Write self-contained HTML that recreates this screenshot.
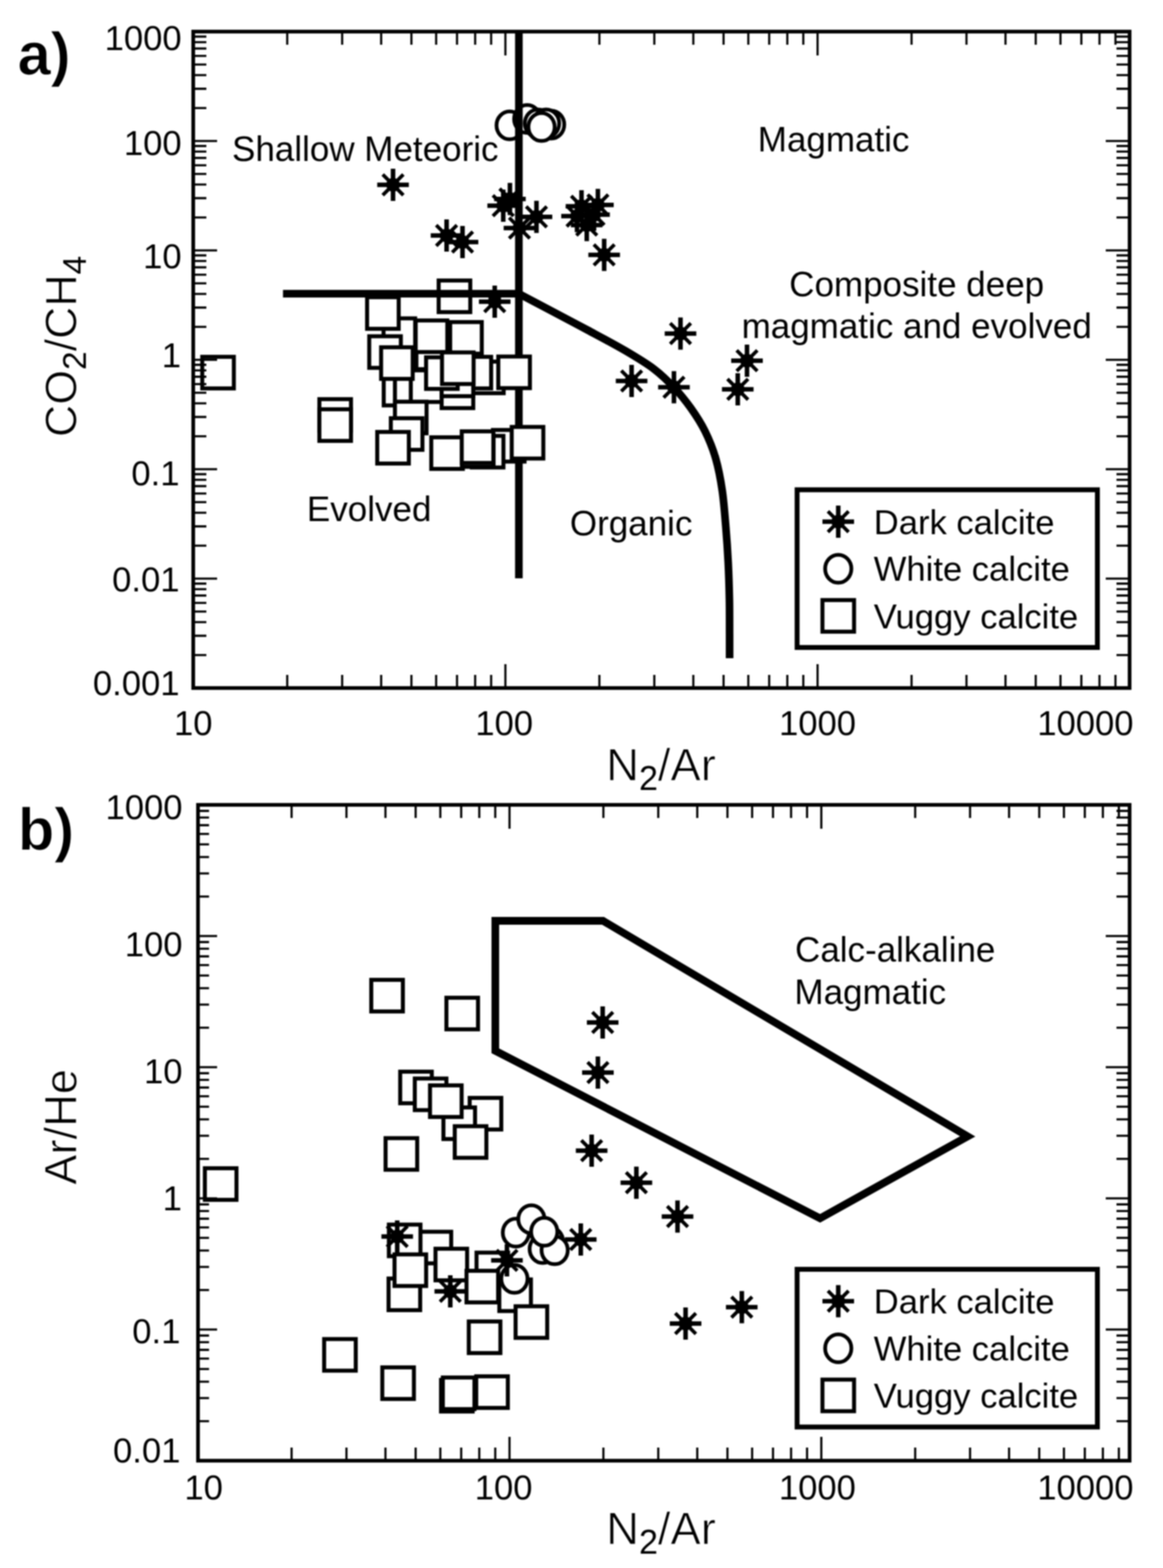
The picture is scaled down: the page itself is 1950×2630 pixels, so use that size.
<!DOCTYPE html>
<html lang="en">
<head>
<meta charset="utf-8">
<title>Gas ratio discrimination diagrams</title>
<style>
html,body{margin:0;padding:0;background:#fff;}
body{width:1950px;height:2630px;overflow:hidden;}
svg{display:block;filter:blur(1px);}
text{font-family:"Liberation Sans", Arial, Helvetica, sans-serif;fill:#000;stroke:none;stroke-linejoin:round;}
text.ax{stroke:#fff;stroke-width:1.1px;}
text.ax tspan.sb{stroke:none;}
text.pn{stroke:#fff;stroke-width:1.2px;}
</style>
</head>
<body>
<svg width="1950" height="2630" viewBox="0 0 1950 2630">
<rect width="1950" height="2630" fill="#fff"/>

<g id="plot-a">
<rect x="735.5" y="470.5" width="53" height="53" fill="#fff" stroke="#000" stroke-width="6.7"/>
<ellipse cx="854.5" cy="210.3" rx="22" ry="23.4" fill="#fff" stroke="#000" stroke-width="6.3"/>
<ellipse cx="884.0" cy="199.5" rx="22" ry="23.4" fill="#fff" stroke="#000" stroke-width="6.3"/>
<ellipse cx="902.0" cy="207.0" rx="22" ry="23.4" fill="#fff" stroke="#000" stroke-width="6.3"/>
<path d="M870 53V970" fill="none" stroke="#000" stroke-width="12.8"/>
<path d="M474.5 492.7H870" fill="none" stroke="#000" stroke-width="12.8"/>
<path d="M870 492.7C878.8 497.4 903.7 510.4 923 520.6C942.3 530.8 965.0 542.7 986 554C1007.0 565.3 1030.5 577.7 1049 588.6C1067.5 599.5 1083.4 609.0 1097 619.3C1110.6 629.6 1120.3 639.5 1130.5 650.3C1140.7 661.1 1149.4 671.9 1158 684C1166.6 696.1 1175.0 708.8 1182 723C1189.0 737.2 1195.2 752.3 1200 769C1204.8 785.7 1208.2 803.8 1211 823C1213.8 842.2 1215.3 863.8 1217 884C1218.7 904.2 1220.0 923.8 1221 944C1222.0 964.2 1222.6 984.8 1223 1005C1223.4 1025.2 1223.2 1048.5 1223.3 1065C1223.3 1081.5 1223.3 1097.5 1223.3 1104" fill="none" stroke="#000" stroke-width="12.8" stroke-linejoin="round"/>
<rect x="339.1" y="598.5" width="53" height="53" fill="#fff" stroke="#000" stroke-width="6.7"/>
<rect x="535.5" y="669.5" width="53" height="53" fill="#fff" stroke="#000" stroke-width="6.7"/>
<rect x="535.5" y="686.5" width="53" height="53" fill="#fff" stroke="#000" stroke-width="6.7"/>
<rect x="643.1" y="534.0" width="53" height="53" fill="#fff" stroke="#000" stroke-width="6.7"/>
<rect x="615.5" y="498.5" width="53" height="53" fill="#fff" stroke="#000" stroke-width="6.7"/>
<rect x="619.1" y="564.0" width="53" height="53" fill="#fff" stroke="#000" stroke-width="6.7"/>
<rect x="698.2" y="566.2" width="53" height="53" fill="#fff" stroke="#000" stroke-width="6.7"/>
<rect x="697.0" y="537.5" width="53" height="53" fill="#fff" stroke="#000" stroke-width="6.7"/>
<rect x="754.8" y="540.2" width="53" height="53" fill="#fff" stroke="#000" stroke-width="6.7"/>
<rect x="643.4" y="627.0" width="53" height="53" fill="#fff" stroke="#000" stroke-width="6.7"/>
<rect x="662.2" y="621.2" width="53" height="53" fill="#fff" stroke="#000" stroke-width="6.7"/>
<rect x="688.8" y="621.2" width="53" height="53" fill="#fff" stroke="#000" stroke-width="6.7"/>
<rect x="639.0" y="582.5" width="53" height="53" fill="#fff" stroke="#000" stroke-width="6.7"/>
<rect x="791.5" y="606.5" width="53" height="53" fill="#fff" stroke="#000" stroke-width="6.7"/>
<rect x="770.5" y="598.5" width="53" height="53" fill="#fff" stroke="#000" stroke-width="6.7"/>
<rect x="740.5" y="631.5" width="53" height="53" fill="#fff" stroke="#000" stroke-width="6.7"/>
<rect x="740.5" y="611.5" width="53" height="53" fill="#fff" stroke="#000" stroke-width="6.7"/>
<rect x="714.4" y="599.3" width="53" height="53" fill="#fff" stroke="#000" stroke-width="6.7"/>
<rect x="741.1" y="591.1" width="53" height="53" fill="#fff" stroke="#000" stroke-width="6.7"/>
<rect x="835.5" y="598.0" width="53" height="53" fill="#fff" stroke="#000" stroke-width="6.7"/>
<rect x="662.2" y="673.8" width="53" height="53" fill="#fff" stroke="#000" stroke-width="6.7"/>
<rect x="655.3" y="701.5" width="53" height="53" fill="#fff" stroke="#000" stroke-width="6.7"/>
<rect x="632.5" y="724.5" width="53" height="53" fill="#fff" stroke="#000" stroke-width="6.7"/>
<rect x="826.5" y="721.2" width="53" height="53" fill="#fff" stroke="#000" stroke-width="6.7"/>
<rect x="791.1" y="731.1" width="53" height="53" fill="#fff" stroke="#000" stroke-width="6.7"/>
<rect x="723.1" y="733.5" width="53" height="53" fill="#fff" stroke="#000" stroke-width="6.7"/>
<rect x="774.5" y="730.0" width="53" height="53" fill="#fff" stroke="#000" stroke-width="6.7"/>
<rect x="774.2" y="723.5" width="53" height="53" fill="#fff" stroke="#000" stroke-width="6.7"/>
<rect x="858.0" y="716.1" width="53" height="53" fill="#fff" stroke="#000" stroke-width="6.7"/>
<ellipse cx="924.1" cy="209.0" rx="22" ry="23.4" fill="#fff" stroke="#000" stroke-width="6.3"/>
<ellipse cx="915.6" cy="207.0" rx="22" ry="23.4" fill="#fff" stroke="#000" stroke-width="6.3"/>
<ellipse cx="908.0" cy="213.0" rx="22" ry="23.4" fill="#fff" stroke="#000" stroke-width="6.3"/>
<path d="M632.5 310.0H685.5M659.0 283.0V337.0" fill="none" stroke="#000" stroke-width="7.6"/><path d="M641.7 292.7L676.3 327.3M641.7 327.3L676.3 292.7" fill="none" stroke="#000" stroke-width="6.0"/><circle cx="659.0" cy="310.0" r="11.5" fill="#000"/>
<path d="M722.2 395.0H775.2M748.8 368.0V422.0" fill="none" stroke="#000" stroke-width="7.6"/><path d="M731.4 377.7L766.1 412.3M731.4 412.3L766.1 377.7" fill="none" stroke="#000" stroke-width="6.0"/><circle cx="748.8" cy="395.0" r="11.5" fill="#000"/>
<path d="M749.0 406.0H802.0M775.5 379.0V433.0" fill="none" stroke="#000" stroke-width="7.6"/><path d="M758.2 388.7L792.8 423.3M758.2 423.3L792.8 388.7" fill="none" stroke="#000" stroke-width="6.0"/><circle cx="775.5" cy="406.0" r="11.5" fill="#000"/>
<path d="M828.5 333.8H881.5M855.0 306.8V360.8" fill="none" stroke="#000" stroke-width="7.6"/><path d="M837.7 316.4L872.3 351.1M837.7 351.1L872.3 316.4" fill="none" stroke="#000" stroke-width="6.0"/><circle cx="855.0" cy="333.8" r="11.5" fill="#000"/>
<path d="M817.2 345.0H870.2M843.8 318.0V372.0" fill="none" stroke="#000" stroke-width="7.6"/><path d="M826.4 327.7L861.1 362.3M826.4 362.3L861.1 327.7" fill="none" stroke="#000" stroke-width="6.0"/><circle cx="843.8" cy="345.0" r="11.5" fill="#000"/>
<path d="M844.5 382.5H897.5M871.0 355.5V409.5" fill="none" stroke="#000" stroke-width="7.6"/><path d="M853.7 365.2L888.3 399.8M853.7 399.8L888.3 365.2" fill="none" stroke="#000" stroke-width="6.0"/><circle cx="871.0" cy="382.5" r="11.5" fill="#000"/>
<path d="M873.0 363.8H926.0M899.5 336.8V390.8" fill="none" stroke="#000" stroke-width="7.6"/><path d="M882.2 346.4L916.8 381.1M882.2 381.1L916.8 346.4" fill="none" stroke="#000" stroke-width="6.0"/><circle cx="899.5" cy="363.8" r="11.5" fill="#000"/>
<path d="M948.5 346.0H1001.5M975.0 319.0V373.0" fill="none" stroke="#000" stroke-width="7.6"/><path d="M957.7 328.7L992.3 363.3M957.7 363.3L992.3 328.7" fill="none" stroke="#000" stroke-width="6.0"/><circle cx="975.0" cy="346.0" r="11.5" fill="#000"/>
<path d="M976.0 343.8H1029.0M1002.5 316.8V370.8" fill="none" stroke="#000" stroke-width="7.6"/><path d="M985.2 326.4L1019.8 361.1M985.2 361.1L1019.8 326.4" fill="none" stroke="#000" stroke-width="6.0"/><circle cx="1002.5" cy="343.8" r="11.5" fill="#000"/>
<path d="M941.0 362.5H994.0M967.5 335.5V389.5" fill="none" stroke="#000" stroke-width="7.6"/><path d="M950.2 345.2L984.8 379.8M950.2 379.8L984.8 345.2" fill="none" stroke="#000" stroke-width="6.0"/><circle cx="967.5" cy="362.5" r="11.5" fill="#000"/>
<path d="M957.2 377.5H1010.2M983.8 350.5V404.5" fill="none" stroke="#000" stroke-width="7.6"/><path d="M966.4 360.2L1001.1 394.8M966.4 394.8L1001.1 360.2" fill="none" stroke="#000" stroke-width="6.0"/><circle cx="983.8" cy="377.5" r="11.5" fill="#000"/>
<path d="M969.5 360.0H1022.5M996.0 333.0V387.0" fill="none" stroke="#000" stroke-width="7.6"/><path d="M978.7 342.7L1013.3 377.3M978.7 377.3L1013.3 342.7" fill="none" stroke="#000" stroke-width="6.0"/><circle cx="996.0" cy="360.0" r="11.5" fill="#000"/>
<path d="M986.5 427.5H1039.5M1013.0 400.5V454.5" fill="none" stroke="#000" stroke-width="7.6"/><path d="M995.7 410.2L1030.3 444.8M995.7 444.8L1030.3 410.2" fill="none" stroke="#000" stroke-width="6.0"/><circle cx="1013.0" cy="427.5" r="11.5" fill="#000"/>
<path d="M803.0 506.0H856.0M829.5 479.0V533.0" fill="none" stroke="#000" stroke-width="7.6"/><path d="M812.2 488.7L846.8 523.3M812.2 523.3L846.8 488.7" fill="none" stroke="#000" stroke-width="6.0"/><circle cx="829.5" cy="506.0" r="11.5" fill="#000"/>
<path d="M1114.5 559.5H1167.5M1141.0 532.5V586.5" fill="none" stroke="#000" stroke-width="7.6"/><path d="M1123.7 542.2L1158.3 576.8M1123.7 576.8L1158.3 542.2" fill="none" stroke="#000" stroke-width="6.0"/><circle cx="1141.0" cy="559.5" r="11.5" fill="#000"/>
<path d="M1032.5 639.0H1085.5M1059.0 612.0V666.0" fill="none" stroke="#000" stroke-width="7.6"/><path d="M1041.7 621.7L1076.3 656.3M1041.7 656.3L1076.3 621.7" fill="none" stroke="#000" stroke-width="6.0"/><circle cx="1059.0" cy="639.0" r="11.5" fill="#000"/>
<path d="M1103.5 649.5H1156.5M1130.0 622.5V676.5" fill="none" stroke="#000" stroke-width="7.6"/><path d="M1112.7 632.2L1147.3 666.8M1112.7 666.8L1147.3 632.2" fill="none" stroke="#000" stroke-width="6.0"/><circle cx="1130.0" cy="649.5" r="11.5" fill="#000"/>
<path d="M1226.0 605.0H1279.0M1252.5 578.0V632.0" fill="none" stroke="#000" stroke-width="7.6"/><path d="M1235.2 587.7L1269.8 622.3M1235.2 622.3L1269.8 587.7" fill="none" stroke="#000" stroke-width="6.0"/><circle cx="1252.5" cy="605.0" r="11.5" fill="#000"/>
<path d="M1210.5 653.0H1263.5M1237.0 626.0V680.0" fill="none" stroke="#000" stroke-width="7.6"/><path d="M1219.7 635.7L1254.3 670.3M1219.7 670.3L1254.3 635.7" fill="none" stroke="#000" stroke-width="6.0"/><circle cx="1237.0" cy="653.0" r="11.5" fill="#000"/>
<path d="M481.6 1154v-22M481.6 53v22M573.7 1154v-22M573.7 53v22M639.1 1154v-22M639.1 53v22M689.8 1154v-22M689.8 53v22M731.3 1154v-22M731.3 53v22M766.3 1154v-22M766.3 53v22M796.7 1154v-22M796.7 53v22M823.5 1154v-22M823.5 53v22M847.4 1154v-40M847.4 53v40M1005.0 1154v-22M1005.0 53v22M1097.1 1154v-22M1097.1 53v22M1162.5 1154v-22M1162.5 53v22M1213.2 1154v-22M1213.2 53v22M1254.7 1154v-22M1254.7 53v22M1289.7 1154v-22M1289.7 53v22M1320.1 1154v-22M1320.1 53v22M1346.9 1154v-22M1346.9 53v22M1370.8 1154v-40M1370.8 53v40M1528.4 1154v-22M1528.4 53v22M1620.5 1154v-22M1620.5 53v22M1685.9 1154v-22M1685.9 53v22M1736.6 1154v-22M1736.6 53v22M1778.1 1154v-22M1778.1 53v22M1813.1 1154v-22M1813.1 53v22M1843.5 1154v-22M1843.5 53v22M1870.3 1154v-22M1870.3 53v22M324 181.3h22M1894 181.3h-22M324 148.9h22M1894 148.9h-22M324 126.0h22M1894 126.0h-22M324 108.2h22M1894 108.2h-22M324 93.7h22M1894 93.7h-22M324 81.4h22M1894 81.4h-22M324 70.8h22M1894 70.8h-22M324 61.4h22M1894 61.4h-22M324 236.5h40M1894 236.5h-40M324 364.8h22M1894 364.8h-22M324 332.4h22M1894 332.4h-22M324 309.5h22M1894 309.5h-22M324 291.7h22M1894 291.7h-22M324 277.2h22M1894 277.2h-22M324 264.9h22M1894 264.9h-22M324 254.3h22M1894 254.3h-22M324 244.9h22M1894 244.9h-22M324 420.0h40M1894 420.0h-40M324 548.3h22M1894 548.3h-22M324 515.9h22M1894 515.9h-22M324 493.0h22M1894 493.0h-22M324 475.2h22M1894 475.2h-22M324 460.7h22M1894 460.7h-22M324 448.4h22M1894 448.4h-22M324 437.8h22M1894 437.8h-22M324 428.4h22M1894 428.4h-22M324 603.5h40M1894 603.5h-40M324 731.8h22M1894 731.8h-22M324 699.4h22M1894 699.4h-22M324 676.5h22M1894 676.5h-22M324 658.7h22M1894 658.7h-22M324 644.2h22M1894 644.2h-22M324 631.9h22M1894 631.9h-22M324 621.3h22M1894 621.3h-22M324 611.9h22M1894 611.9h-22M324 787.0h40M1894 787.0h-40M324 915.3h22M1894 915.3h-22M324 882.9h22M1894 882.9h-22M324 860.0h22M1894 860.0h-22M324 842.2h22M1894 842.2h-22M324 827.7h22M1894 827.7h-22M324 815.4h22M1894 815.4h-22M324 804.8h22M1894 804.8h-22M324 795.4h22M1894 795.4h-22M324 970.5h40M1894 970.5h-40M324 1098.8h22M1894 1098.8h-22M324 1066.4h22M1894 1066.4h-22M324 1043.5h22M1894 1043.5h-22M324 1025.7h22M1894 1025.7h-22M324 1011.2h22M1894 1011.2h-22M324 998.9h22M1894 998.9h-22M324 988.3h22M1894 988.3h-22M324 978.9h22M1894 978.9h-22" fill="none" stroke="#000" stroke-width="3.6"/>
<rect x="324" y="53" width="1570" height="1101" fill="none" stroke="#000" stroke-width="6.2"/>
<rect x="1336.5" y="821.5" width="503.5" height="264.5" fill="#fff" stroke="#000" stroke-width="8.2"/>
<path d="M1379.0 875.0H1432.0M1405.5 848.0V902.0" fill="none" stroke="#000" stroke-width="7.6"/><path d="M1388.2 857.7L1422.8 892.3M1388.2 892.3L1422.8 857.7" fill="none" stroke="#000" stroke-width="6.0"/><circle cx="1405.5" cy="875.0" r="11.5" fill="#000"/>
<ellipse cx="1405.5" cy="954.0" rx="22" ry="23.4" fill="#fff" stroke="#000" stroke-width="6.3"/>
<rect x="1379.0" y="1006.5" width="53" height="53" fill="#fff" stroke="#000" stroke-width="6.7"/>
<text x="1465.0" y="895.5" font-size="58" text-anchor="start" font-weight="normal" >Dark calcite</text>
<text x="1465.0" y="974.0" font-size="58" text-anchor="start" font-weight="normal" >White calcite</text>
<text x="1465.0" y="1053.5" font-size="58" text-anchor="start" font-weight="normal" >Vuggy calcite</text>
<text x="304.5" y="83.5" font-size="58" text-anchor="end" font-weight="normal" >1000</text>
<text x="304.5" y="260.0" font-size="58" text-anchor="end" font-weight="normal" >100</text>
<text x="304.5" y="450.0" font-size="58" text-anchor="end" font-weight="normal" >10</text>
<text x="303.5" y="615.5" font-size="58" text-anchor="end" font-weight="normal" >1</text>
<text x="301.0" y="814.0" font-size="58" text-anchor="end" font-weight="normal" >0.1</text>
<text x="301.0" y="992.0" font-size="58" text-anchor="end" font-weight="normal" >0.01</text>
<text x="301.0" y="1166.0" font-size="58" text-anchor="end" font-weight="normal" >0.001</text>
<text x="324.0" y="1232.5" font-size="58" text-anchor="middle" font-weight="normal" >10</text>
<text x="845.5" y="1232.5" font-size="58" text-anchor="middle" font-weight="normal" >100</text>
<text x="1370.8" y="1232.5" font-size="58" text-anchor="middle" font-weight="normal" >1000</text>
<text x="1820.0" y="1232.5" font-size="58" text-anchor="middle" font-weight="normal" >10000</text>
<text class="ax" x="1016.5" y="1309" font-size="76">N<tspan class="sb" font-size="57" dy="16">2</tspan><tspan dy="-16">/Ar</tspan></text>
<text class="ax" transform="translate(127.5 581) rotate(-90)" text-anchor="middle" font-size="75">CO<tspan class="sb" font-size="56" dy="16">2</tspan><tspan dy="-16">/CH</tspan><tspan class="sb" font-size="56" dy="16">4</tspan></text>
<text x="29.5" y="125.0" font-size="100" text-anchor="start" font-weight="bold" class="pn">a)</text>
<text x="389.0" y="270.0" font-size="58.7" text-anchor="start" font-weight="normal" >Shallow Meteoric</text>
<text x="1270.5" y="253.5" font-size="58.7" text-anchor="start" font-weight="normal" >Magmatic</text>
<text x="1537.0" y="497.0" font-size="58.7" text-anchor="middle" font-weight="normal" >Composite deep</text>
<text x="1537.0" y="567.0" font-size="58.7" text-anchor="middle" font-weight="normal" >magmatic and evolved</text>
<text x="514.5" y="873.5" font-size="58.7" text-anchor="start" font-weight="normal" >Evolved</text>
<text x="955.5" y="897.5" font-size="58.7" text-anchor="start" font-weight="normal" >Organic</text>
</g>
<g id="plot-b">
<path d="M830.5 1544.5H1011L1622.5 1906L1375 2043.5L830.5 1762.5Z" fill="none" stroke="#000" stroke-width="12.8" stroke-linejoin="miter" stroke-miterlimit="10"/>
<rect x="343.5" y="1959.5" width="53" height="53" fill="#fff" stroke="#000" stroke-width="6.7"/>
<rect x="622.5" y="1643.5" width="53" height="53" fill="#fff" stroke="#000" stroke-width="6.7"/>
<rect x="748.5" y="1673.5" width="53" height="53" fill="#fff" stroke="#000" stroke-width="6.7"/>
<rect x="787.5" y="1841.5" width="53" height="53" fill="#fff" stroke="#000" stroke-width="6.7"/>
<rect x="743.5" y="1857.5" width="53" height="53" fill="#fff" stroke="#000" stroke-width="6.7"/>
<rect x="671.0" y="1797.5" width="53" height="53" fill="#fff" stroke="#000" stroke-width="6.7"/>
<rect x="695.5" y="1809.0" width="53" height="53" fill="#fff" stroke="#000" stroke-width="6.7"/>
<rect x="721.0" y="1820.5" width="53" height="53" fill="#fff" stroke="#000" stroke-width="6.7"/>
<rect x="762.5" y="1889.0" width="53" height="53" fill="#fff" stroke="#000" stroke-width="6.7"/>
<rect x="646.5" y="1909.0" width="53" height="53" fill="#fff" stroke="#000" stroke-width="6.7"/>
<rect x="703.5" y="2066.0" width="53" height="53" fill="#fff" stroke="#000" stroke-width="6.7"/>
<rect x="652.0" y="2054.0" width="53" height="53" fill="#fff" stroke="#000" stroke-width="6.7"/>
<rect x="651.5" y="2144.5" width="53" height="53" fill="#fff" stroke="#000" stroke-width="6.7"/>
<rect x="661.5" y="2104.0" width="53" height="53" fill="#fff" stroke="#000" stroke-width="6.7"/>
<rect x="799.0" y="2101.0" width="53" height="53" fill="#fff" stroke="#000" stroke-width="6.7"/>
<rect x="730.2" y="2094.5" width="53" height="53" fill="#fff" stroke="#000" stroke-width="6.7"/>
<rect x="837.2" y="2146.0" width="53" height="53" fill="#fff" stroke="#000" stroke-width="6.7"/>
<rect x="782.2" y="2131.5" width="53" height="53" fill="#fff" stroke="#000" stroke-width="6.7"/>
<rect x="864.5" y="2191.0" width="53" height="53" fill="#fff" stroke="#000" stroke-width="6.7"/>
<rect x="786.0" y="2216.5" width="53" height="53" fill="#fff" stroke="#000" stroke-width="6.7"/>
<rect x="543.5" y="2246.0" width="53" height="53" fill="#fff" stroke="#000" stroke-width="6.7"/>
<rect x="641.0" y="2293.5" width="53" height="53" fill="#fff" stroke="#000" stroke-width="6.7"/>
<rect x="739.5" y="2314.5" width="53" height="53" fill="#fff" stroke="#000" stroke-width="6.7"/>
<rect x="742.5" y="2310.5" width="53" height="53" fill="#fff" stroke="#000" stroke-width="6.7"/>
<rect x="798.5" y="2308.5" width="53" height="53" fill="#fff" stroke="#000" stroke-width="6.7"/>
<ellipse cx="865.0" cy="2067.5" rx="22" ry="23.4" fill="#fff" stroke="#000" stroke-width="6.3"/>
<ellipse cx="891.0" cy="2045.0" rx="22" ry="23.4" fill="#fff" stroke="#000" stroke-width="6.3"/>
<ellipse cx="922.0" cy="2082.0" rx="22" ry="23.4" fill="#fff" stroke="#000" stroke-width="6.3"/>
<ellipse cx="910.0" cy="2095.0" rx="22" ry="23.4" fill="#fff" stroke="#000" stroke-width="6.3"/>
<ellipse cx="930.0" cy="2097.0" rx="22" ry="23.4" fill="#fff" stroke="#000" stroke-width="6.3"/>
<ellipse cx="912.5" cy="2066.0" rx="22" ry="23.4" fill="#fff" stroke="#000" stroke-width="6.3"/>
<ellipse cx="862.5" cy="2145.0" rx="22" ry="23.4" fill="#fff" stroke="#000" stroke-width="6.3"/>
<path d="M984.0 1715.0H1037.0M1010.5 1688.0V1742.0" fill="none" stroke="#000" stroke-width="7.6"/><path d="M993.2 1697.7L1027.8 1732.3M993.2 1732.3L1027.8 1697.7" fill="none" stroke="#000" stroke-width="6.0"/><circle cx="1010.5" cy="1715.0" r="11.5" fill="#000"/>
<path d="M976.0 1799.0H1029.0M1002.5 1772.0V1826.0" fill="none" stroke="#000" stroke-width="7.6"/><path d="M985.2 1781.7L1019.8 1816.3M985.2 1816.3L1019.8 1781.7" fill="none" stroke="#000" stroke-width="6.0"/><circle cx="1002.5" cy="1799.0" r="11.5" fill="#000"/>
<path d="M965.5 1930.0H1018.5M992.0 1903.0V1957.0" fill="none" stroke="#000" stroke-width="7.6"/><path d="M974.7 1912.7L1009.3 1947.3M974.7 1947.3L1009.3 1912.7" fill="none" stroke="#000" stroke-width="6.0"/><circle cx="992.0" cy="1930.0" r="11.5" fill="#000"/>
<path d="M1040.5 1983.8H1093.5M1067.0 1956.8V2010.8" fill="none" stroke="#000" stroke-width="7.6"/><path d="M1049.7 1966.4L1084.3 2001.1M1049.7 2001.1L1084.3 1966.4" fill="none" stroke="#000" stroke-width="6.0"/><circle cx="1067.0" cy="1983.8" r="11.5" fill="#000"/>
<path d="M1109.5 2040.5H1162.5M1136.0 2013.5V2067.5" fill="none" stroke="#000" stroke-width="7.6"/><path d="M1118.7 2023.2L1153.3 2057.8M1118.7 2057.8L1153.3 2023.2" fill="none" stroke="#000" stroke-width="6.0"/><circle cx="1136.0" cy="2040.5" r="11.5" fill="#000"/>
<path d="M1217.2 2192.5H1270.2M1243.8 2165.5V2219.5" fill="none" stroke="#000" stroke-width="7.6"/><path d="M1226.4 2175.2L1261.1 2209.8M1226.4 2209.8L1261.1 2175.2" fill="none" stroke="#000" stroke-width="6.0"/><circle cx="1243.8" cy="2192.5" r="11.5" fill="#000"/>
<path d="M1123.0 2220.0H1176.0M1149.5 2193.0V2247.0" fill="none" stroke="#000" stroke-width="7.6"/><path d="M1132.2 2202.7L1166.8 2237.3M1132.2 2237.3L1166.8 2202.7" fill="none" stroke="#000" stroke-width="6.0"/><circle cx="1149.5" cy="2220.0" r="11.5" fill="#000"/>
<path d="M639.5 2074.0H692.5M666.0 2047.0V2101.0" fill="none" stroke="#000" stroke-width="7.6"/><path d="M648.7 2056.7L683.3 2091.3M648.7 2091.3L683.3 2056.7" fill="none" stroke="#000" stroke-width="6.0"/><circle cx="666.0" cy="2074.0" r="11.5" fill="#000"/>
<path d="M728.5 2166.0H781.5M755.0 2139.0V2193.0" fill="none" stroke="#000" stroke-width="7.6"/><path d="M737.7 2148.7L772.3 2183.3M737.7 2183.3L772.3 2148.7" fill="none" stroke="#000" stroke-width="6.0"/><circle cx="755.0" cy="2166.0" r="11.5" fill="#000"/>
<path d="M823.5 2114.0H876.5M850.0 2087.0V2141.0" fill="none" stroke="#000" stroke-width="7.6"/><path d="M832.7 2096.7L867.3 2131.3M832.7 2131.3L867.3 2096.7" fill="none" stroke="#000" stroke-width="6.0"/><circle cx="850.0" cy="2114.0" r="11.5" fill="#000"/>
<path d="M947.2 2079.0H1000.2M973.8 2052.0V2106.0" fill="none" stroke="#000" stroke-width="7.6"/><path d="M956.4 2061.7L991.1 2096.3M956.4 2096.3L991.1 2061.7" fill="none" stroke="#000" stroke-width="6.0"/><circle cx="973.8" cy="2079.0" r="11.5" fill="#000"/>
<path d="M488.9 2450v-22M488.9 1350v22M580.9 2450v-22M580.9 1350v22M646.3 2450v-22M646.3 1350v22M696.9 2450v-22M696.9 1350v22M738.3 2450v-22M738.3 1350v22M773.3 2450v-22M773.3 1350v22M803.6 2450v-22M803.6 1350v22M830.4 2450v-22M830.4 1350v22M854.3 2450v-40M854.3 1350v40M1011.7 2450v-22M1011.7 1350v22M1103.7 2450v-22M1103.7 1350v22M1169.1 2450v-22M1169.1 1350v22M1219.7 2450v-22M1219.7 1350v22M1261.1 2450v-22M1261.1 1350v22M1296.1 2450v-22M1296.1 1350v22M1326.4 2450v-22M1326.4 1350v22M1353.2 2450v-22M1353.2 1350v22M1377.1 2450v-40M1377.1 1350v40M1534.5 2450v-22M1534.5 1350v22M1626.5 2450v-22M1626.5 1350v22M1691.9 2450v-22M1691.9 1350v22M1742.5 2450v-22M1742.5 1350v22M1783.9 2450v-22M1783.9 1350v22M1818.9 2450v-22M1818.9 1350v22M1849.2 2450v-22M1849.2 1350v22M1876.0 2450v-22M1876.0 1350v22M332 1503.8h18.5M1894 1503.8h-22M332 1465.0h18.5M1894 1465.0h-22M332 1437.5h18.5M1894 1437.5h-22M332 1416.2h18.5M1894 1416.2h-22M332 1398.8h18.5M1894 1398.8h-22M332 1384.1h18.5M1894 1384.1h-22M332 1371.3h18.5M1894 1371.3h-22M332 1360.1h18.5M1894 1360.1h-22M332 1570.0h32M1894 1570.0h-40M332 1723.8h18.5M1894 1723.8h-22M332 1685.0h18.5M1894 1685.0h-22M332 1657.5h18.5M1894 1657.5h-22M332 1636.2h18.5M1894 1636.2h-22M332 1618.8h18.5M1894 1618.8h-22M332 1604.1h18.5M1894 1604.1h-22M332 1591.3h18.5M1894 1591.3h-22M332 1580.1h18.5M1894 1580.1h-22M332 1790.0h32M1894 1790.0h-40M332 1943.8h18.5M1894 1943.8h-22M332 1905.0h18.5M1894 1905.0h-22M332 1877.5h18.5M1894 1877.5h-22M332 1856.2h18.5M1894 1856.2h-22M332 1838.8h18.5M1894 1838.8h-22M332 1824.1h18.5M1894 1824.1h-22M332 1811.3h18.5M1894 1811.3h-22M332 1800.1h18.5M1894 1800.1h-22M332 2010.0h32M1894 2010.0h-40M332 2163.8h18.5M1894 2163.8h-22M332 2125.0h18.5M1894 2125.0h-22M332 2097.5h18.5M1894 2097.5h-22M332 2076.2h18.5M1894 2076.2h-22M332 2058.8h18.5M1894 2058.8h-22M332 2044.1h18.5M1894 2044.1h-22M332 2031.3h18.5M1894 2031.3h-22M332 2020.1h18.5M1894 2020.1h-22M332 2230.0h32M1894 2230.0h-40M332 2383.8h18.5M1894 2383.8h-22M332 2345.0h18.5M1894 2345.0h-22M332 2317.5h18.5M1894 2317.5h-22M332 2296.2h18.5M1894 2296.2h-22M332 2278.8h18.5M1894 2278.8h-22M332 2264.1h18.5M1894 2264.1h-22M332 2251.3h18.5M1894 2251.3h-22M332 2240.1h18.5M1894 2240.1h-22" fill="none" stroke="#000" stroke-width="3.6"/>
<rect x="332" y="1350" width="1562" height="1100" fill="none" stroke="#000" stroke-width="6.2"/>
<rect x="1336.5" y="2129.0" width="503.5" height="264.5" fill="#fff" stroke="#000" stroke-width="8.2"/>
<path d="M1379.0 2182.5H1432.0M1405.5 2155.5V2209.5" fill="none" stroke="#000" stroke-width="7.6"/><path d="M1388.2 2165.2L1422.8 2199.8M1388.2 2199.8L1422.8 2165.2" fill="none" stroke="#000" stroke-width="6.0"/><circle cx="1405.5" cy="2182.5" r="11.5" fill="#000"/>
<ellipse cx="1405.5" cy="2261.5" rx="22" ry="23.4" fill="#fff" stroke="#000" stroke-width="6.3"/>
<rect x="1379.0" y="2314.0" width="53" height="53" fill="#fff" stroke="#000" stroke-width="6.7"/>
<text x="1465.0" y="2203.0" font-size="58" text-anchor="start" font-weight="normal" >Dark calcite</text>
<text x="1465.0" y="2281.5" font-size="58" text-anchor="start" font-weight="normal" >White calcite</text>
<text x="1465.0" y="2361.0" font-size="58" text-anchor="start" font-weight="normal" >Vuggy calcite</text>
<text x="306.0" y="1374.0" font-size="58" text-anchor="end" font-weight="normal" >1000</text>
<text x="306.0" y="1604.0" font-size="58" text-anchor="end" font-weight="normal" >100</text>
<text x="306.0" y="1816.5" font-size="58" text-anchor="end" font-weight="normal" >10</text>
<text x="305.0" y="2030.0" font-size="58" text-anchor="end" font-weight="normal" >1</text>
<text x="302.5" y="2253.0" font-size="58" text-anchor="end" font-weight="normal" >0.1</text>
<text x="302.5" y="2453.0" font-size="58" text-anchor="end" font-weight="normal" >0.01</text>
<text x="341.5" y="2515.0" font-size="58" text-anchor="middle" font-weight="normal" >10</text>
<text x="844.5" y="2515.0" font-size="58" text-anchor="middle" font-weight="normal" >100</text>
<text x="1370.5" y="2515.0" font-size="58" text-anchor="middle" font-weight="normal" >1000</text>
<text x="1820.0" y="2515.0" font-size="58" text-anchor="middle" font-weight="normal" >10000</text>
<text class="ax" x="1016.5" y="2590" font-size="76">N<tspan class="sb" font-size="57" dy="16">2</tspan><tspan dy="-16">/Ar</tspan></text>
<text class="ax" transform="translate(127.5 1890) rotate(-90)" text-anchor="middle" font-size="76">Ar/He</text>
<text x="30.0" y="1426.0" font-size="100" text-anchor="start" font-weight="bold" class="pn">b)</text>
<text x="1333.0" y="1612.5" font-size="58.7" text-anchor="start" font-weight="normal" >Calc-alkaline</text>
<text x="1332.0" y="1683.5" font-size="58.7" text-anchor="start" font-weight="normal" >Magmatic</text>
</g>
</svg>
</body>
</html>
